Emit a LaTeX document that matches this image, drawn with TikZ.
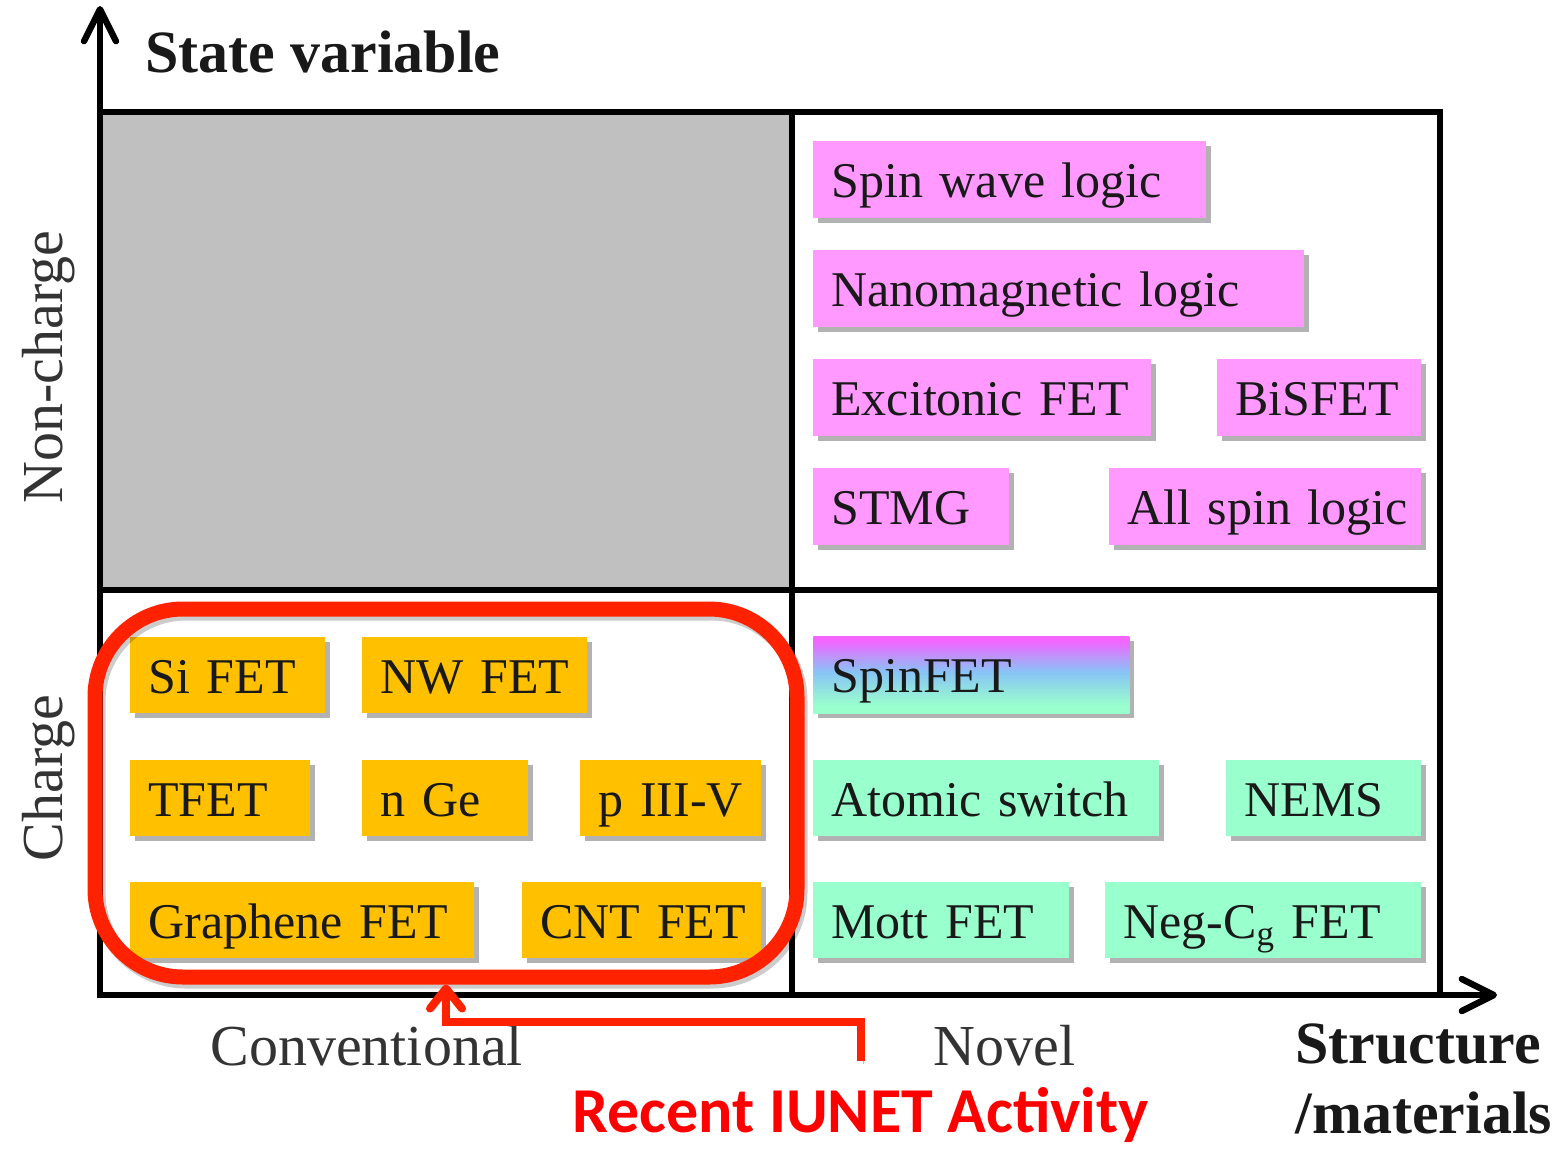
\documentclass[tikz,border=0pt]{standalone}
\usepackage{fontspec}
\setmainfont{Liberation Serif}
\newfontfamily\calibfont{Carlito}
\usetikzlibrary{arrows.meta,shadows}

\definecolor{gridgray}{HTML}{C0C0C0}
\definecolor{orangefill}{HTML}{FFC000}
\definecolor{pinkfill}{HTML}{FF99FF}
\definecolor{mintfill}{HTML}{99FFCC}
\definecolor{spinmag}{HTML}{F266FF}
\definecolor{spinsky}{HTML}{88C4F6}
\definecolor{hilite}{HTML}{FF2200}
\definecolor{labelred}{HTML}{FF0000}

% SpinFET fill: mint at the bottom, sky blue in the middle, magenta on top
\pgfdeclareverticalshading{spinshade}{100bp}{%
  color(0bp)=(mintfill); color(30bp)=(mintfill); color(52bp)=(spinsky);
  color(72bp)=(spinmag); color(100bp)=(spinmag)}

\tikzset{
  devbox/.style={anchor=north west, inner xsep=9pt, inner ysep=0pt,
    text height=20pt, text depth=2pt, align=left,
    font=\fontsize{25}{30}\selectfont, text=black!90,
    drop shadow={shadow xshift=2.5pt, shadow yshift=-2.5pt, fill=black, opacity=.3}},
  pinkbox/.style={devbox, fill=pinkfill},
  orangebox/.style={devbox, fill=orangefill},
  mintbox/.style={devbox, fill=mintfill},
  spinbox/.style={devbox, shading=spinshade},
  gridline/.style={line width=3.2pt, line join=miter},
  axisline/.style={line width=3.2pt, line join=miter,
    {Straight Barb[length=16pt,width=16pt,round]}-{Straight Barb[length=16pt,width=16pt,round]}},
  axislabel/.style={font=\fontsize{29}{34}\selectfont, text=black!80, inner sep=0pt},
  axistitle/.style={font=\bfseries\fontsize{30}{36}\selectfont, text=black!90, inner sep=0pt, anchor=base west},
  hiliteline/.style={draw=hilite, line width=4pt,
    -{Straight Barb[length=10pt,width=16pt,round]},
    preaction={draw=black, opacity=.25, transform canvas={shift={(1.5pt,-1.5pt)}}}},
}

% \devnode{name}{x1}{y1}{x2}{y2}{style}{text}: box from (x1,y1) to (x2,y2)
\newcommand\devnode[7]{%
  \pgfmathsetmacro\dnw{(#4-#2)*0.5}%
  \pgfmathsetmacro\dnh{(#5-#3)*0.5}%
  \pgfmathsetmacro\dnt{\dnw-18}%
  \node[#6, minimum width=\dnw pt, minimum height=\dnh pt, text width=\dnt pt] (#1) at (#2,#3) {\mbox{#7}};}

\begin{document}
\begin{tikzpicture}[x=0.5pt, y=-0.5pt]
\useasboundingbox (0,0) rectangle (1564,1148);

% quadrants
\fill[gridgray] (100,112) rectangle (792,590);
\draw[gridline] (100,112) -- (1440,112) -- (1440,995);
\draw[gridline] (792,112) -- (792,995);
\draw[gridline] (100,590) -- (1440,590);

% axes
\coordinate (origin) at (100,995);
\coordinate (ytip) at (100,6);
\coordinate (xtip) at (1497,995);
\draw[axisline] (ytip) -- (origin) -- (xtip);

% axis titles and labels
\node[axistitle] (stateVar) at (145,72) {State variable};
\node[axistitle] (structA) at (1295,1063) {Structure};
\node[axistitle] (structB) at (1295,1133) {/materials};
\node[axislabel, rotate=90, anchor=base] (noncharge) at (62,367) {Non-charge};
\node[axislabel, rotate=90, anchor=base] (charge) at (62,778) {Charge};
\node[axislabel, anchor=base west] (conv) at (210,1065) {Conventional};
\node[axislabel, anchor=base west] (novel) at (933,1065) {Novel};

% non-charge, novel devices
\devnode{spinwave}{813}{141}{1206}{218}{pinkbox}{Spin wave logic}
\devnode{nanomag}{813}{250}{1304}{327}{pinkbox}{Nanomagnetic logic}
\devnode{excitonic}{813}{359}{1151}{436}{pinkbox}{Excitonic FET}
\devnode{bisfet}{1217}{359}{1421}{436}{pinkbox}{BiSFET}
\devnode{stmg}{813}{468}{1009}{545}{pinkbox}{STMG}
\devnode{allspin}{1109}{468}{1421}{545}{pinkbox}{All spin logic}

% charge, conventional devices
\devnode{sifet}{130}{637}{325}{713}{orangebox}{Si FET}
\devnode{nwfet}{362}{637}{587}{713}{orangebox}{NW FET}
\devnode{tfet}{130}{760}{310}{836}{orangebox}{TFET}
\devnode{nge}{362}{760}{528}{836}{orangebox}{n Ge}
\devnode{piiiv}{580}{760}{761}{836}{orangebox}{p III-V}
\devnode{graphene}{130}{882}{474}{958}{orangebox}{Graphene FET}
\devnode{cntfet}{522}{882}{761}{958}{orangebox}{CNT FET}

% charge, novel devices
\devnode{spinfet}{813}{636}{1129}{713}{spinbox}{SpinFET}
\devnode{atomic}{813}{760}{1159}{836}{mintbox}{Atomic switch}
\devnode{nems}{1226}{760}{1421}{836}{mintbox}{NEMS}
\devnode{mott}{813}{882}{1069}{958}{mintbox}{Mott FET}
\devnode{negc}{1105}{882}{1421}{958}{mintbox}{Neg-C\textsubscript{g} FET}

% highlighted group
\node[draw=hilite, line width=7.5pt, rounded corners=44pt, inner sep=0pt,
      minimum width=351pt, minimum height=184pt,
      preaction={draw=black, opacity=.2, transform canvas={shift={(1.5pt,-2pt)}}}]
      (iunet) at (446,793) {};

\node[font=\calibfont\bfseries\fontsize{32}{38}\selectfont, text=labelred,
      anchor=base west, inner sep=0pt] (iunetlbl) at (572,1132) {Recent IUNET Activity};

\coordinate (tail) at ([yshift=13pt]iunetlbl.north);
\coordinate (bendlevel) at (0,1022);
\draw[hiliteline] (tail) -- (tail |- bendlevel) -| (iunet.south);
\end{tikzpicture}
\end{document}
